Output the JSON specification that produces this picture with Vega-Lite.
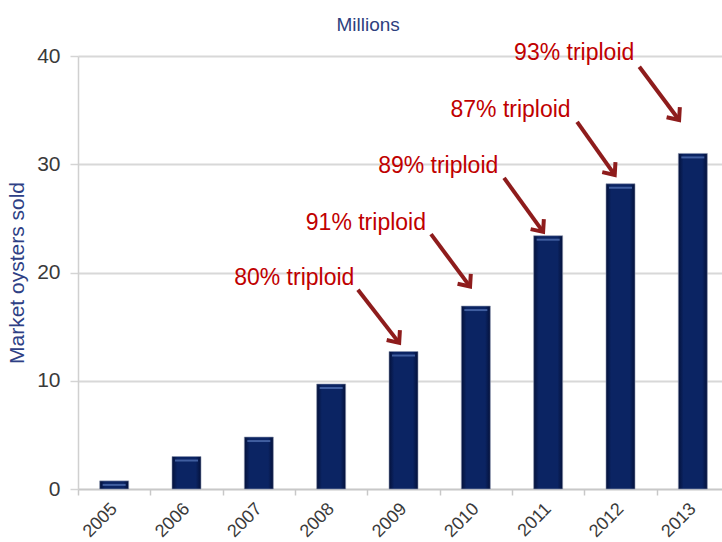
{
  "$schema": "https://vega.github.io/schema/vega-lite/v6.json",
  "autosize": "none",
  "width": 644,
  "height": 433,
  "padding": {"left": 78, "top": 56, "right": 0, "bottom": 53},
  "background": "white",
  "config": {
    "view": {"stroke": null},
    "font": "Liberation Sans"
  },
  "title": {
    "text": "Millions",
    "frame": "bounds",
    "anchor": "middle",
    "fontSize": 19,
    "fontWeight": "normal",
    "color": "#2e3f7e",
    "offset": 7
  },
  "datasets": {
    "sales": [
      {"year": "2005", "oysters": 0.75},
      {"year": "2006", "oysters": 3.0},
      {"year": "2007", "oysters": 4.8},
      {"year": "2008", "oysters": 9.7},
      {"year": "2009", "oysters": 12.7},
      {"year": "2010", "oysters": 16.9},
      {"year": "2011", "oysters": 23.4},
      {"year": "2012", "oysters": 28.2},
      {"year": "2013", "oysters": 31.0}
    ],
    "notes": [
      {"label": "80% triploid", "lx": 2007.49, "ly": 19.5, "x0": 2008.37, "y0": 18.4, "x1": 2008.94, "y1": 13.5},
      {"label": "91% triploid", "lx": 2008.48, "ly": 24.6, "x0": 2009.38, "y0": 23.54, "x1": 2009.92, "y1": 18.7},
      {"label": "89% triploid", "lx": 2009.48, "ly": 29.84, "x0": 2010.39, "y0": 28.74, "x1": 2010.93, "y1": 23.75},
      {"label": "87% triploid", "lx": 2010.48, "ly": 35.0, "x0": 2011.4, "y0": 33.91, "x1": 2011.92, "y1": 29.01},
      {"label": "93% triploid", "lx": 2011.36, "ly": 40.27, "x0": 2012.26, "y0": 39.01, "x1": 2012.81, "y1": 34.09}
    ]
  },
  "resolve": {"scale": {"x": "independent"}},
  "layer": [
    {
      "data": {"name": "sales"},
      "layer": [
        {
          "mark": {
            "type": "bar",
            "size": 29,
            "color": {
              "gradient": "linear",
              "x1": 0, "y1": 0, "x2": 1, "y2": 0,
              "stops": [
                {"offset": 0, "color": "#04113a"},
                {"offset": 0.18, "color": "#0b2463"},
                {"offset": 0.82, "color": "#0b2463"},
                {"offset": 1, "color": "#04113a"}
              ]
            },
            "stroke": "#8d97b0",
            "strokeWidth": 1,
            "strokeOpacity": 0.6
          },
          "encoding": {
            "x": {
              "field": "year",
              "type": "ordinal",
              "scale": {"range": [0, 651], "paddingInner": 0, "paddingOuter": 0},
              "axis": {
                "title": null,
                "labelAngle": -45,
                "labelAlign": "right",
                "labelBaseline": "middle",
                "labelFontSize": 18,
                "labelColor": "#3a3a3a",
                "labelPadding": 11,
                "tickBand": "extent",
                "tickSize": 6,
                "tickColor": "#c8c8c8",
                "tickWidth": 1.5,
                "domainColor": "#c8c8c8",
                "domainWidth": 1.5,
                "grid": false
              }
            },
            "y": {
              "field": "oysters",
              "type": "quantitative",
              "scale": {"domain": [0, 40], "nice": false},
              "axis": {
                "values": [0, 10, 20, 30, 40],
                "title": "Market oysters sold",
                "titleFontSize": 21,
                "titleFontWeight": "normal",
                "titleColor": "#2e3f85",
                "titlePadding": 9,
                "labelFontSize": 21,
                "labelColor": "#3a3a3a",
                "labelPadding": 10,
                "tickSize": 8,
                "tickColor": "#d4d4d4",
                "tickWidth": 1.5,
                "domainColor": "#d0d0d0",
                "domainWidth": 1.5,
                "gridColor": "#d8d8d8",
                "gridWidth": 1.8
              }
            }
          }
        },
        {
          "mark": {"type": "tick", "size": 23, "thickness": 2, "yOffset": 4, "color": "#4a68aa", "opacity": 0.85},
          "encoding": {
            "x": {"field": "year", "type": "ordinal"},
            "y": {"field": "oysters", "type": "quantitative"}
          }
        }
      ]
    },
    {
      "data": {"name": "notes"},
      "layer": [
        {
          "mark": {"type": "rule", "color": "#8e1c1c", "strokeWidth": 4, "strokeCap": "butt"},
          "encoding": {
            "x": {"field": "x0", "type": "quantitative", "scale": {"domain": [2004.5, 2013.5], "range": [0, 651], "nice": false, "zero": false}, "axis": null},
            "y": {"field": "y0", "type": "quantitative"},
            "x2": {"field": "x1"},
            "y2": {"field": "y1"}
          }
        },
        {
          "mark": {
            "type": "point",
            "shape": "M -1 -0.85 L 0 0 L -1 0.85",
            "filled": false,
            "size": 380,
            "angle": 53,
            "stroke": "#8e1c1c",
            "strokeWidth": 4,
            "strokeJoin": "miter",
            "opacity": 1
          },
          "encoding": {
            "x": {"field": "x1", "type": "quantitative"},
            "y": {"field": "y1", "type": "quantitative"}
          }
        },
        {
          "mark": {"type": "text", "fontSize": 23, "color": "#c00000", "align": "center", "baseline": "middle"},
          "encoding": {
            "x": {"field": "lx", "type": "quantitative"},
            "y": {"field": "ly", "type": "quantitative"},
            "text": {"field": "label"}
          }
        }
      ]
    }
  ]
}
